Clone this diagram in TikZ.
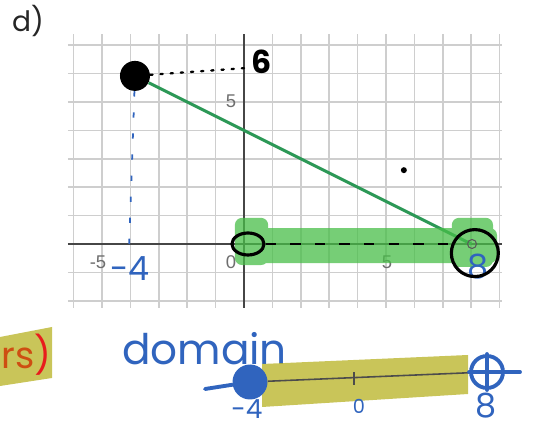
\documentclass[tikz,border=0pt]{standalone}
\usepackage{fontspec}
\setmainfont{Poppins}
\newfontfamily\desmosfont{Liberation Sans}
\usetikzlibrary{shapes.geometric}
\definecolor{gridgray}{RGB}{206,206,206}
\definecolor{axisgray}{RGB}{70,70,70}
\definecolor{tickgray}{RGB}{110,110,110}
\definecolor{lineGreen}{RGB}{44,152,86}
\definecolor{hlGreen}{RGB}{72,190,72}
\definecolor{hlYellow}{RGB}{188,182,48}
\definecolor{inkBlue}{RGB}{48,100,190}
\definecolor{inkRed}{RGB}{232,28,28}
\definecolor{inkOrange}{RGB}{206,78,18}
\begin{document}
\begin{tikzpicture}[x=0.02cm, y=0.02cm,
    gridline/.style={draw=gridgray, line width=0.9pt},
    axisline/.style={draw=axisgray, line width=1.1pt},
    ticklbl/.style={text=tickgray, font=\desmosfont\fontsize{10.5}{12}\selectfont, inner sep=0pt},
    bluepen/.style={draw=inkBlue, line width=2.2pt, line cap=round},
    bluetext/.style={text=inkBlue, inner sep=0pt},
    blackring/.style={draw=black, line width=1.8pt, inner sep=0pt}]
    \useasboundingbox (0,0) rectangle (533,428);
    \clip (0,0) rectangle (533,428);

    \node[text=black!85] (title) at (28,407) {\fontsize{16}{18}\selectfont d)};

    % graph: origin at (244,184), one unit = 28.4px
    \begin{scope}[shift={(244,184)}, x=0.568cm, y=0.568cm]
        \draw[gridline, step=1] (-6.2,-2.25) grid (9.1,7.4);
        \draw[axisline] (-6.2,0) -- (9.1,0);
        \draw[axisline] (0,-2.25) -- (0,7.4);
        \node[ticklbl] (xm5) at (-5.14,-0.63) {-5};
        \node[ticklbl] (x0) at (-0.46,-0.63) {0};
        \node[ticklbl] (x5) at (5.04,-0.63) {5};
        \node[ticklbl] (y5) at (-0.46,5.04) {5};

        \node[circle, fill=black, minimum size=0.6cm, inner sep=0pt] (ptA) at (-3.84,5.92) {};
        \coordinate (ptB) at (8,0);
        \coordinate (ysix) at (0.1,6.2);
        \coordinate (xfour) at (-4.05,-0.2);
        \draw[draw=lineGreen, line width=1.7pt] (ptA) -- (ptB);
        \fill[hlGreen, opacity=0.75, rounded corners=4pt]
            (-0.25,-0.67) rectangle (8.91,0.56)
            (-0.32,-0.74) rectangle (0.85,0.92)
            (7.32,-0.81) rectangle (8.77,0.92);

        \draw[black, line width=1.3pt, dash pattern=on 1.3pt off 4.5pt, line cap=round] (ptA) -- (ysix);
        \node[inner sep=0pt] (six) at (0.63,6.41) {\fontsize{18}{20}\selectfont\bfseries 6};
        \draw[draw=inkBlue, line width=1pt, dash pattern=on 3pt off 9pt] (ptA) -- (xfour);
        \node[bluetext] (minusfour) at (-4.01,-0.88) {\fontsize{19}{20}\selectfont -4};

        \node[circle, fill=black, minimum size=0.12cm, inner sep=0pt] (stray) at (5.63,2.6) {};

        \node[draw=black!65, circle, minimum size=0.18cm, inner sep=0pt, line width=0.6pt] (openpt) at (8.03,0) {};
        \node[bluetext] (eight) at (8.24,-0.81) {\fontsize{19}{20}\selectfont 8};
        \node[blackring, ellipse, minimum width=0.64cm, minimum height=0.44cm] (ring0) at (0.14,0) {};
        \node[blackring, circle, minimum size=0.94cm] (ring8) at (8.13,-0.32) {};
        \draw[black, line width=1.2pt, dash pattern=on 6pt off 8pt] (ring0.east) -- (ring8.west |- ring0.east);
    \end{scope}

    % left note
    \fill[hlYellow, opacity=0.8] (0,91) -- (52,101) -- (52,50) -- (0,42) -- cycle;
    \node[anchor=east, inner sep=0pt] (rsnote) at (52,73)
        {\fontsize{21}{23}\selectfont\color{inkOrange}rs\color{inkRed})};

    % number line of the domain
    \node[bluetext] (domain) at (204.5,79.5) {\fontsize{24}{26}\selectfont domain};
    \fill[hlYellow, opacity=0.8] (262,64) -- (468,73) -- (468,34) -- (262,21) -- cycle;
    \node[circle, fill=inkBlue, minimum size=0.7cm, inner sep=0pt] (bdot) at (250,46) {};
    \node[circle, draw=inkBlue, line width=2.2pt, minimum size=0.64cm, inner sep=0pt] (bring) at (487,56) {};
    \draw[black!70, line width=0.9pt] (bdot) -- (bring);
    \draw[black!70, line width=0.9pt] (354,43) -- (354,56);
    \coordinate (bstub) at (205,39);
    \coordinate (rstub) at (520,56);
    \draw[bluepen] (bstub) -- (bdot);
    \draw[bluepen] (bring.west) -- (rstub);
    \draw[bluepen] (bring.north) -- (bring.south);
    \node[bluetext] (lminus4) at (247,19) {\fontsize{15}{17}\selectfont -4};
    \node[bluetext] (lzero) at (359,22) {\fontsize{11}{12}\selectfont 0};
    \node[bluetext] (leight) at (486,22) {\fontsize{19}{20}\selectfont 8};
\end{tikzpicture}
\end{document}
